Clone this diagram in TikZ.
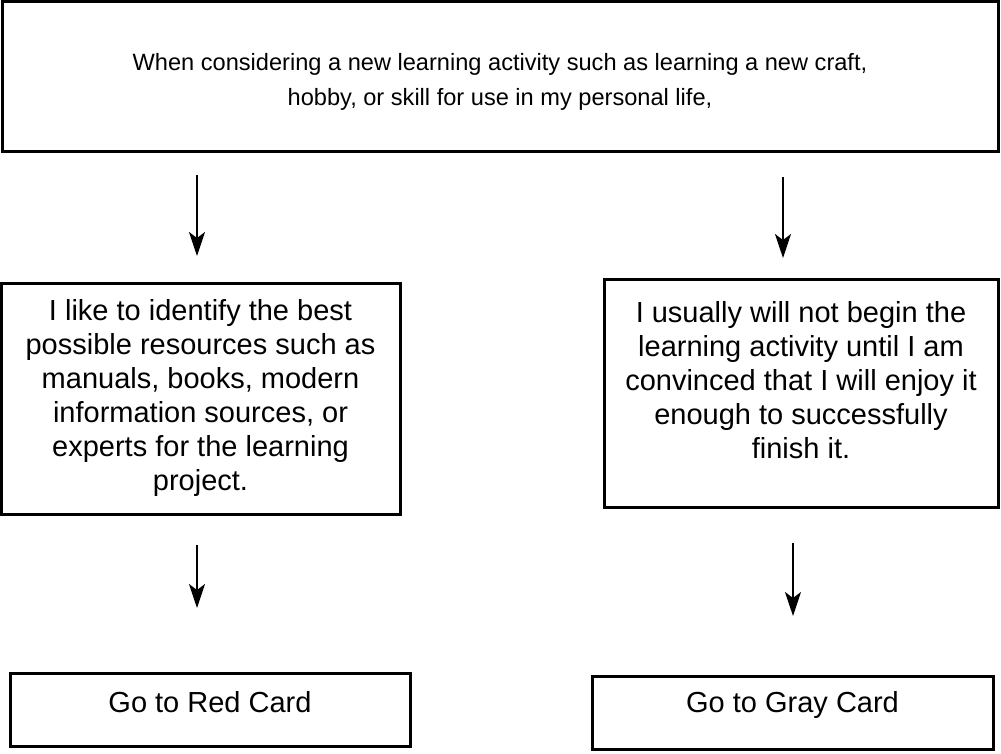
\documentclass[tikz,border=0pt]{standalone}
\usepackage{fontspec}
\setmainfont{Liberation Sans}
\usetikzlibrary{arrows.meta}
\begin{document}
\begin{tikzpicture}[x=1pt,y=-1pt,
  box/.style={draw=black,line width=3pt,rectangle,inner sep=0pt,fill=white},
  txt/.style={align=center,inner sep=0pt,font=\fontsize{29pt}{34pt}\selectfont},
  toptxt/.style={align=center,inner sep=0pt,font=\fontsize{23.6pt}{35pt}\selectfont},
  arr/.style={line width=2pt,-{Stealth[length=24pt,width=16pt,inset=6pt]}}]
\useasboundingbox (0,0) rectangle (1001,754);
\fill[white] (0,0) rectangle (1001,754);
% boxes
\node[box,minimum width=996pt,minimum height=150pt] (top) at (500,77) {};
\node[box,minimum width=399pt,minimum height=231pt] (left) at (200.5,398.5) {};
\node[box,minimum width=394pt,minimum height=228pt] (right) at (801,393) {};
\node[box,minimum width=400pt,minimum height=73pt] (red) at (210,710) {};
\node[box,minimum width=401pt,minimum height=73pt] (gray) at (792.5,713) {};
% texts
\node[toptxt] (toptext) at (500,82) {When considering a new learning activity such as learning a new craft,\\hobby, or skill for use in my personal life,};
\node[txt] (lefttext) at (200.5,398) {I like to identify the best\\possible resources such as\\manuals, books, modern\\information sources, or\\experts for the learning\\project.};
\node[txt] (righttext) at (801,380) {I usually will not begin the\\learning activity until I am\\convinced that I will enjoy it\\enough to successfully\\finish it.};
\node[txt] (redtext) at (210,702) {Go to Red Card};
\node[txt] (graytext) at (792.5,705) {Go to Gray Card};
% arrow end points
\coordinate (a1s) at (197,175); \coordinate (a1e) at (197,256);
\coordinate (a2s) at (783,177); \coordinate (a2e) at (783,258);
\coordinate (a3s) at (197,545); \coordinate (a3e) at (197,608);
\coordinate (a4s) at (793,543); \coordinate (a4e) at (793,616);
\draw[arr] (a1s) -- (a1e);
\draw[arr] (a2s) -- (a2e);
\draw[arr] (a3s) -- (a3e);
\draw[arr] (a4s) -- (a4e);
\end{tikzpicture}
\end{document}
